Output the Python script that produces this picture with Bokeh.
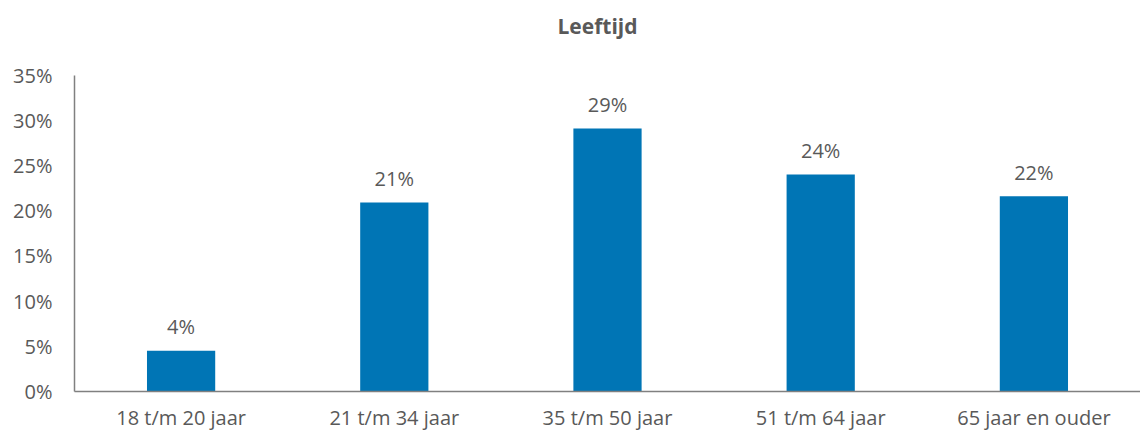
from bokeh.plotting import figure
from bokeh.models import ColumnDataSource, FixedTicker, NumeralTickFormatter, LabelSet, Range1d, Label
from bokeh.core.properties import value
from bokeh.embed import file_html
from bokeh.resources import INLINE

categories = ["18 t/m 20 jaar", "21 t/m 34 jaar", "35 t/m 50 jaar", "51 t/m 64 jaar", "65 jaar en ouder"]
values = [0.045, 0.209, 0.291, 0.240, 0.216]
labels = ["4%", "21%", "29%", "24%", "22%"]
y_ticks = [0, 0.05, 0.10, 0.15, 0.20, 0.25, 0.30, 0.35]
title_text = "Leeftijd"

FONT = "Open Sans"
GREY = "#595959"

# layout constants (pixels)
W, H = 1140, 433
LEFT, BOTTOM, TOP = 74, 40, 5
AXIS_TOP_PX = 75          # where 35% should sit
Y_MAX = 0.35
frame_bottom = H - BOTTOM
px_per_unit = (frame_bottom - AXIS_TOP_PX) / Y_MAX
y_end = Y_MAX + (AXIS_TOP_PX - TOP) / px_per_unit

src = ColumnDataSource(dict(cat=categories, val=values, lab=labels))

p = figure(x_range=categories, y_range=Range1d(0, y_end), width=W, height=H,
           output_backend="svg", toolbar_location=None,
           min_border_left=LEFT, min_border_top=TOP, min_border_bottom=BOTTOM, min_border_right=0)

p.add_layout(Label(x=597 - LEFT, y=frame_bottom - 27, x_units="screen", y_units="screen",
                   text=title_text, text_align="center", text_baseline="middle",
                   text_font=FONT, text_font_size="21px", text_font_style="bold",
                   text_color=GREY))

p.vbar(x="cat", top="val", width=0.32, source=src, color="#0075B5", line_color=None)

p.add_layout(LabelSet(x="cat", y="val", text="lab", source=src, text_align="center",
                      text_baseline="middle", y_offset=24, text_font=value(FONT),
                      text_font_size=value("20px"), text_color=GREY))

p.xgrid.grid_line_color = None
p.ygrid.grid_line_color = None
p.outline_line_color = None

p.yaxis.ticker = FixedTicker(ticks=y_ticks)
p.yaxis.formatter = NumeralTickFormatter(format="0%")
p.yaxis.bounds = (0, Y_MAX)
for ax in (p.xaxis, p.yaxis):
    ax.axis_line_color = "#808080"
    ax.axis_line_width = 1.5
    ax.major_tick_line_color = None
    ax.minor_tick_line_color = None
    ax.major_label_text_font = FONT
    ax.major_label_text_font_size = "20px"
    ax.major_label_text_color = GREY
p.yaxis.major_label_standoff = 16
p.xaxis.major_label_standoff = 6

open("out.html", "w").write(file_html(p, INLINE))
